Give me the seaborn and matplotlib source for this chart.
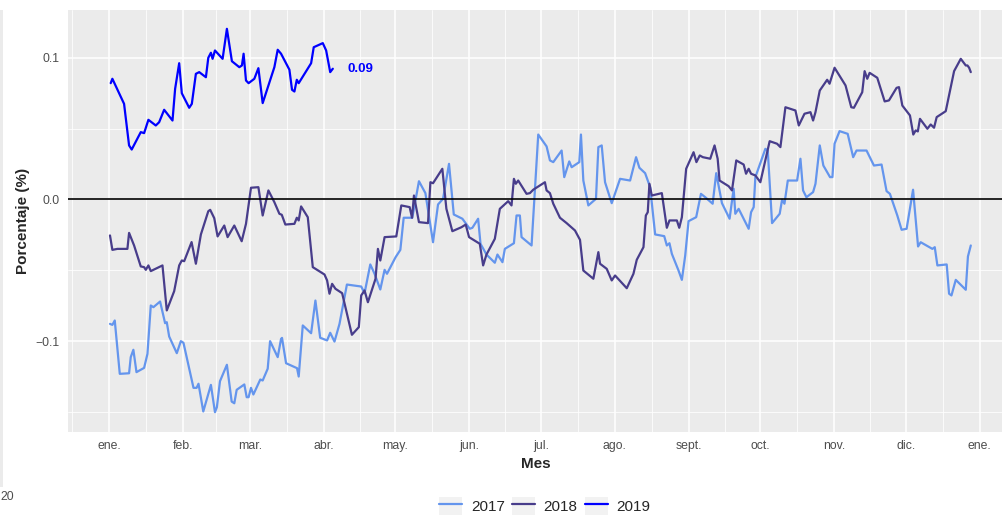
import numpy as np
import pandas as pd
import matplotlib
matplotlib.use('Agg')
import matplotlib.pyplot as plt
from matplotlib.patches import Patch, Rectangle
from matplotlib.lines import Line2D
from matplotlib.legend_handler import HandlerTuple
import seaborn as sns

# days since 1 Jan
days_2017 = [0.4, 1.4, 2.4, 4.5, 8.4, 9.1, 10.2, 11.5, 14.7, 16.1, 17.5, 18.6, 21.4, 23.5, 24.2, 25.2,
             28.4, 30.1, 31.2, 35.4, 36.7, 37.5, 39.5, 42.7, 44.4, 45.2, 46.5, 49.4, 51.4, 52.5, 53.5,
             56.7, 57.7, 58.5, 59.5, 60.5, 63.4, 64.4, 66.5, 67.5, 70.7, 72.1, 72.5, 74.2, 78.8, 79.5,
             81.2, 84.7, 86.5, 88.5, 91.4, 92.7, 94.5, 96.6, 99.7, 105.7, 107.1, 109.5, 111.3, 113.7,
             115.5, 116.5, 120.1, 122.1, 123.5, 127.1, 129.9, 132.6, 135.8, 137.9, 140.0, 142.5, 144.5,
             148.1, 151.2, 152.3, 154.7, 155.7, 158.2, 161.7, 162.8, 164.9, 165.9, 169.7, 170.8, 172.2,
             172.9, 177.1, 179.9, 183.4, 184.8, 186.2, 189.7, 190.8, 192.9, 193.9, 197.1, 197.8, 198.8,
             200.9, 204.1, 205.1, 206.5, 207.9, 210.7, 214.2, 218.4, 220.9, 222.3, 224.7, 226.8, 228.9,
             232.7, 233.8, 234.9, 235.9, 238.7, 240.1, 241.5, 242.9, 246.1, 248.1, 249.9, 253.0, 254.5,
             256.9, 260.1, 261.8, 262.5, 263.9, 268.1, 269.1, 270.2, 270.9, 275.1, 276.1, 277.9, 281.1,
             282.1, 283.1, 284.5, 288.4, 289.8, 290.9, 292.3, 295.1, 296.1, 297.9, 299.4, 302.2, 303.2,
             304.1, 306.2, 309.6, 311.9, 313.3, 317.5, 320.6, 323.8, 325.9, 327.3, 330.4, 332.2, 334.3,
             337.0, 339.1, 340.2, 345.1, 346.1, 347.2, 351.1, 352.1, 353.1, 354.9, 359.1, 360.0, 361.2]
vals_2017 = [-0.0879, -0.0886, -0.0855, -0.1232, -0.1228, -0.1114, -0.1062, -0.1220, -0.1190, -0.1091,
             -0.0749, -0.0761, -0.0721, -0.0874, -0.0867, -0.0968, -0.1086, -0.1001, -0.1013, -0.1331,
             -0.1331, -0.1302, -0.1498, -0.1310, -0.1503, -0.1468, -0.1284, -0.1168, -0.1428, -0.1440,
             -0.1345, -0.1307, -0.1397, -0.1397, -0.1331, -0.1378, -0.1272, -0.1279, -0.1196, -0.1001,
             -0.1114, -0.0985, -0.0978, -0.1157, -0.1192, -0.1251, -0.0890, -0.0945, -0.0714, -0.0977,
             -0.0996, -0.0942, -0.1004, -0.0879, -0.0601, -0.0615, -0.0662, -0.0459, -0.0525, -0.0636,
             -0.0497, -0.0525, -0.0408, -0.0356, -0.0129, -0.0129, 0.0129, 0.0045, -0.0302, -0.0035,
             0.0005, 0.0252, -0.0106, -0.0136, -0.0207, -0.0200, -0.0136, -0.0313, -0.0389, -0.0447,
             -0.0389, -0.0443, -0.0349, -0.0309, -0.0113, -0.0113, -0.0266, -0.0325, 0.0459, 0.0375,
             0.0276, 0.0264, 0.0346, 0.0158, 0.0269, 0.0228, 0.0264, 0.0459, 0.0134, -0.0042, 0.0005,
             0.0370, 0.0382, 0.0122, -0.0026, 0.0146, 0.0134, 0.0299, 0.0224, 0.0186, 0.0087, -0.0247,
             -0.0259, -0.0325, -0.0309, -0.0384, -0.0502, -0.0568, -0.0396, -0.0153, -0.0125, 0.0040,
             0.0016, -0.0030, 0.0186, -0.0026, -0.0136, 0.0076, -0.0101, -0.0066, -0.0207, -0.0090,
             -0.0054, 0.0158, 0.0358, 0.0346, -0.0167, -0.0101, -0.0002, -0.0030, 0.0134, 0.0134,
             0.0288, 0.0064, 0.0016, 0.0052, 0.0111, 0.0382, 0.0240, 0.0158, 0.0158, 0.0394, 0.0483,
             0.0464, 0.0299, 0.0346, 0.0346, 0.0240, 0.0247, 0.0059, 0.0040, -0.0113, -0.0214, -0.0207,
             0.0069, -0.0332, -0.0302, -0.0349, -0.0337, -0.0466, -0.0459, -0.0666, -0.0678, -0.0568,
             -0.0638, -0.0403, -0.0325]

days_2018 = [0.4, 1.4, 3.5, 7.7, 8.4, 10.5, 13.3, 14.7, 15.4, 16.5, 17.5, 22.4, 24.2, 27.3, 29.4, 30.5,
             31.5, 34.6, 36.4, 38.5, 41.6, 42.4, 44.1, 45.5, 48.3, 49.7, 52.5, 55.6, 57.4, 59.5, 62.6,
             64.4, 66.8, 69.3, 71.4, 72.4, 73.9, 77.7, 78.7, 79.5, 80.5, 83.3, 85.4, 90.3, 91.4, 92.4,
             93.5, 94.9, 97.7, 99.4, 101.8, 104.7, 105.7, 107.1, 108.5, 111.7, 112.7, 113.7, 115.5,
             120.4, 122.5, 126.0, 127.0, 127.8, 129.9, 133.7, 134.7, 135.8, 139.7, 141.4, 143.9, 147.7,
             149.5, 150.9, 155.4, 156.8, 158.2, 161.7, 163.8, 167.3, 168.7, 169.7, 170.5, 171.5, 175.0,
             176.4, 177.8, 182.7, 183.4, 184.8, 186.2, 189.0, 191.8, 195.3, 197.4, 198.8, 203.0, 205.1,
             205.8, 208.6, 210.7, 212.1, 217.0, 219.8, 221.2, 224.0, 225.0, 225.8, 226.5, 227.5, 231.7,
             233.8, 234.9, 238.0, 239.0, 240.1, 241.9, 245.0, 246.2, 247.6, 248.9, 252.0, 253.8, 255.1,
             255.9, 259.7, 261.1, 262.9, 266.0, 267.0, 268.1, 269.1, 270.9, 273.0, 276.9, 280.0, 281.4,
             283.5, 287.7, 289.1, 291.5, 294.0, 295.1, 296.1, 297.9, 301.0, 302.0, 304.1, 308.7, 311.1,
             312.2, 315.7, 316.7, 317.8, 318.8, 322.0, 325.1, 326.9, 330.1, 331.1, 332.5, 335.7, 337.1,
             338.1, 339.0, 339.9, 343.0, 344.4, 345.8, 346.9, 350.7, 352.5, 354.2, 357.0, 359.1, 359.8,
             360.5, 361.2]
vals_2018 = [-0.0254, -0.0356, -0.0349, -0.0349, -0.0236, -0.0325, -0.0473, -0.0478, -0.0497, -0.0466,
             -0.0506, -0.0466, -0.0784, -0.0648, -0.0466, -0.0431, -0.0436, -0.0301, -0.0454, -0.0247,
             -0.0083, -0.0073, -0.0132, -0.0261, -0.0184, -0.0266, -0.0184, -0.0295, -0.0172, 0.0083,
             0.0087, -0.0113, 0.0064, -0.0019, -0.0101, -0.0108, -0.0177, -0.0172, -0.0129, -0.0148,
             -0.0049, -0.0125, -0.0478, -0.0530, -0.0572, -0.0666, -0.0596, -0.0631, -0.0662, -0.0784,
             -0.0956, -0.0902, -0.0678, -0.0643, -0.0726, -0.0560, -0.0349, -0.0431, -0.0266, -0.0261,
             -0.0042, -0.0054, -0.0129, 0.0028, -0.0160, -0.0167, 0.0122, 0.0115, 0.0217, -0.0066,
             -0.0224, -0.0196, -0.0177, -0.0266, -0.0313, -0.0466, -0.0389, -0.0278, -0.0066, -0.0012,
             -0.0042, 0.0146, 0.0111, 0.0134, 0.0040, 0.0045, 0.0069, 0.0122, 0.0064, 0.0045, -0.0030,
             -0.0129, -0.0167, -0.0219, -0.0285, -0.0502, -0.0560, -0.0372, -0.0454, -0.0490, -0.0572,
             -0.0537, -0.0627, -0.0525, -0.0426, -0.0337, -0.0113, -0.0090, 0.0111, 0.0028, 0.0045,
             -0.0200, -0.0148, -0.0148, -0.0200, -0.0125, 0.0217, 0.0334, 0.0264, 0.0311, 0.0299,
             0.0288, 0.0382, 0.0288, 0.0134, 0.0094, 0.0064, 0.0276, 0.0247, 0.0182, 0.0217, 0.0182,
             0.0170, 0.0122, 0.0412, 0.0394, 0.0370, 0.0652, 0.0629, 0.0523, 0.0606, 0.0617, 0.0558,
             0.0617, 0.0770, 0.0846, 0.0818, 0.0931, 0.0806, 0.0652, 0.0648, 0.0758, 0.0907, 0.0853,
             0.0895, 0.0860, 0.0693, 0.0700, 0.0789, 0.0794, 0.0664, 0.0594, 0.0459, 0.0488, 0.0481,
             0.0570, 0.0500, 0.0530, 0.0507, 0.0582, 0.0624, 0.0770, 0.0907, 0.0994, 0.0947, 0.0947,
             0.0931, 0.0900]

days_2019 = [0.7, 1.4, 6.3, 8.4, 9.5, 13.3, 14.7, 16.5, 19.6, 21.0, 23.1, 26.6, 27.7, 29.4, 30.5, 33.6,
             34.7, 36.4, 37.8, 40.6, 41.6, 42.7, 43.4, 44.4, 47.6, 49.4, 51.5, 54.6, 55.7, 56.4, 57.4,
             58.5, 60.9, 62.6, 64.4, 69.3, 70.7, 72.1, 75.6, 76.7, 77.7, 78.7, 79.5, 84.7, 85.8, 89.6,
             91.0, 92.7, 93.8]
vals_2019 = [0.0822, 0.0853, 0.0676, 0.0382, 0.0353, 0.0476, 0.0469, 0.0563, 0.0523, 0.0546, 0.0634,
             0.0558, 0.0782, 0.0963, 0.0751, 0.0648, 0.0676, 0.0888, 0.0900, 0.0864, 0.1001, 0.1037,
             0.0994, 0.1053, 0.0994, 0.1206, 0.0977, 0.0935, 0.0947, 0.1030, 0.0841, 0.0822, 0.0853,
             0.0928, 0.0681, 0.0935, 0.1058, 0.1030, 0.0917, 0.0775, 0.0763, 0.0846, 0.0822, 0.0963,
             0.1076, 0.1105, 0.1053, 0.0900, 0.0924]

years = ['2017', '2018', '2019']
colors = {'2017': '#6495ED', '2018': '#483D8B', '2019': '#0000FF'}
last_label = '0.09'

month_starts = [0, 31, 59, 90, 120, 151, 181, 212, 243, 273, 304, 334, 365]
month_names = ['ene.', 'feb.', 'mar.', 'abr.', 'may.', 'jun.', 'jul.', 'ago.', 'sept.', 'oct.',
               'nov.', 'dic.', 'ene.']

df = pd.concat([
    pd.DataFrame({'day': days_2017, 'value': vals_2017, 'year': '2017'}),
    pd.DataFrame({'day': days_2018, 'value': vals_2018, 'year': '2018'}),
    pd.DataFrame({'day': days_2019, 'value': vals_2019, 'year': '2019'}),
], ignore_index=True)

sns.set_theme(style='darkgrid', rc={'axes.facecolor': '#EBEBEB', 'grid.color': 'white'})
plt.rcParams['font.family'] = ['Liberation Sans', 'DejaVu Sans']

fig = plt.figure(figsize=(10.03, 5.16), dpi=100)
ax = fig.add_axes([68 / 1003, 84 / 516, 935 / 1003, 422 / 516])

sns.lineplot(data=df, x='day', y='value', hue='year', palette=colors, estimator=None,
             linewidth=1.6, legend=False, ax=ax, zorder=3)
ax.axhline(0, color='black', linewidth=1.2, zorder=4)

last = df[df['year'] == '2019'].iloc[-1]
ax.text(last['day'] + 11.4, last['value'], last_label, color='#0000FF', fontsize=9.5,
        fontweight='bold', ha='center', va='center')

ax.set_xticks(month_starts)
ax.set_xticklabels(month_names)
minor_x = [(a + b) / 2 for a, b in zip([-31] + month_starts, month_starts + [396])]
ax.set_xticks(minor_x, minor=True)
ax.set_yticks([-0.1, 0.0, 0.1])
ax.set_yticklabels(['\u22120.1', '0.0', '0.1'])
ax.set_yticks([-0.15, -0.05, 0.05], minor=True)

# limits after ticks, otherwise set_xticks widens the view
ax.set_xlim(-17.2, 374.7)
ax.set_ylim(-0.1643, 0.1339)

ax.grid(which='major', color='white', linewidth=1.1)
ax.grid(which='minor', color='white', linewidth=0.55)
for s in ax.spines.values():
    s.set_visible(False)

ax.tick_params(axis='both', which='major', length=3.5, width=0.8, color='#333333',
               labelsize=8.8, labelcolor='#4D4D4D', pad=2.5)
ax.tick_params(axis='both', which='minor', length=0)

ax.set_xlabel('Mes', fontsize=11, fontweight='bold', labelpad=3)
ax.set_ylabel('Porcentaje (%)', fontsize=11, fontweight='bold', labelpad=4)

handles = [(Patch(facecolor='#F2F2F2', edgecolor='none'),
            Line2D([], [], color=colors[y], linewidth=1.6)) for y in years]
fig.legend(handles, years, handler_map={tuple: HandlerTuple(ndivide=1)},
           loc='center', bbox_to_anchor=(545 / 1003, 10 / 516), ncol=3, frameon=False,
           fontsize=11, handlelength=1.5, handleheight=1.5, handletextpad=0.55,
           columnspacing=0.5, borderpad=0)

# sliver of a neighbouring panel at the left edge
fig.add_artist(Rectangle((0, 29 / 516), 3 / 1003, 477 / 516, transform=fig.transFigure,
                         facecolor='#EBEBEB', edgecolor='none'))
fig.text(0.5 / 1003, 19 / 516, '20', ha='left', va='center', fontsize=8.8, color='#4D4D4D')

fig.savefig('out.png', dpi=100)
